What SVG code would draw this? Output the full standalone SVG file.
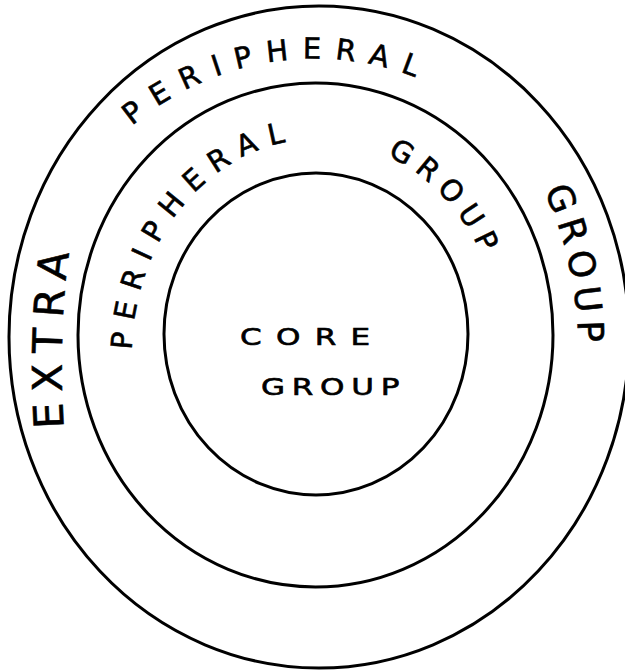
<svg xmlns="http://www.w3.org/2000/svg" width="625" height="670" viewBox="0 0 625 670">
  <style>
    .ring { fill: none; stroke: #000; stroke-width: 3; }
    .lbl { font-family: "DejaVu Sans", "Liberation Sans", sans-serif; fill: #000; stroke: #000; stroke-width: 0.6; }
  </style>
  <defs>
    <path id="p-outer-top" d="M 132,126 A 284 286 0 0 1 498,126"/>
    <path id="p-outer-left" d="M 64,428 C 60,370 61,300 72,235 L 82,195"/>
    <path id="p-outer-right" d="M 544,190 C 566,240 578,290 578,345 L 578,390"/>
    <path id="p-mid-left" d="M 132,350 A 186 216 0 0 1 382,152"/>
    <path id="p-mid-right" d="M 387,155.5 A 185 215 0 0 1 492,428"/>
  </defs>
  <rect width="625" height="670" fill="#fff"/>

  <g id="extra-peripheral-group">
    <ellipse class="ring" cx="319" cy="337" rx="310" ry="331"/>
    <text class="lbl" font-size="41" letter-spacing="10.5"><textPath href="#p-outer-left">EXTRA</textPath></text>
    <text class="lbl" font-size="29" letter-spacing="13.8"><textPath href="#p-outer-top">PERIPHERAL</textPath></text>
    <text class="lbl" font-size="36" letter-spacing="7"><textPath href="#p-outer-right">GROUP</textPath></text>
  </g>

  <g id="peripheral-group">
    <ellipse class="ring" cx="315.5" cy="335" rx="237.5" ry="252"/>
    <text class="lbl" font-size="29" letter-spacing="11.3"><textPath href="#p-mid-left">PERIPHERAL</textPath></text>
    <text class="lbl" font-size="29" letter-spacing="8.5"><textPath href="#p-mid-right">GROUP</textPath></text>
  </g>

  <g id="core-group">
    <ellipse class="ring" cx="316" cy="334" rx="152" ry="161"/>
    <text class="lbl" font-size="23" letter-spacing="10.6" transform="translate(240,345) scale(1.35,1)">CORE</text>
    <text class="lbl" font-size="23" letter-spacing="5" transform="translate(261,395) scale(1.35,1)">GROUP</text>
  </g>
</svg>
